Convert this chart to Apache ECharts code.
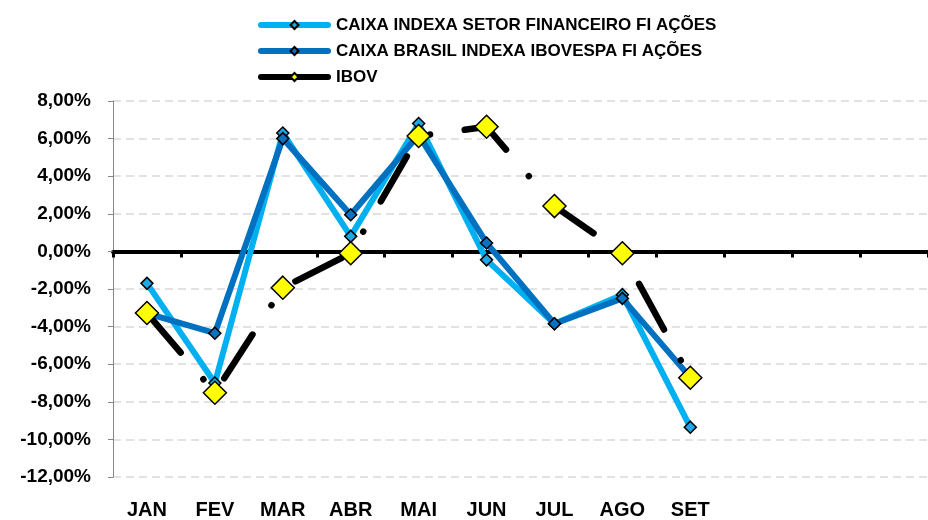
<!DOCTYPE html>
<html>
<head>
<meta charset="utf-8">
<script src="https://cdn.jsdelivr.net/npm/echarts@6/dist/echarts.min.js"></script>
<style>html,body{margin:0;padding:0;background:#fff}#c{width:928px;height:520px}</style>
</head>
<body>
<div id="c"></div>
<script>
var categories = ['JAN','FEV','MAR','ABR','MAI','JUN','JUL','AGO','SET','OUT','NOV','DEZ'];
var categoryLabels = ['JAN','FEV','MAR','ABR','MAI','JUN','JUL','AGO','SET','','',''];
var seriesNames = ['CAIXA INDEXA SETOR FINANCEIRO FI AÇÕES','CAIXA BRASIL INDEXA IBOVESPA FI AÇÕES','IBOV'];
var setorFinanceiro = [-1.7, -7.0, 6.3, 0.8, 6.8, -0.45, -3.85, -2.3, -9.35, null, null, null];
var brasilIbovespa = [-3.3, -4.35, 6.0, 1.95, 6.2, 0.45, -3.85, -2.5, -6.7, null, null, null];
var ibov = [-3.28, -7.52, -1.93, -0.1, 6.14, 6.63, 2.41, -0.1, -6.72, null, null, null];
var yMin = -12, yMax = 8, yStep = 2;

var font = '"Liberation Sans", Arial, sans-serif';
var chart = echarts.init(document.getElementById('c'), null, {renderer: 'canvas'});
chart.setOption({
  animation: false,
  backgroundColor: '#fff',
  legend: {
    orient: 'vertical',
    left: 253,
    top: 10,
    itemWidth: 67,
    itemHeight: 10,
    itemGap: 6,
    lineStyle: {width: 6, type: 'solid', cap: 'round'},
    textStyle: {fontFamily: font, fontWeight: 'bold', fontSize: 17, color: '#000', lineHeight: 20, padding: [0, 0, 0, 3]},
    data: seriesNames
  },
  grid: {left: 113, right: 0, top: 101, bottom: 43},
  xAxis: [{
    type: 'category',
    data: categories,
    boundaryGap: true,
    axisLine: {onZero: true, lineStyle: {color: '#000', width: 4}},
    axisTick: {show: true, length: 6, lineStyle: {color: '#000', width: 3}},
    axisLabel: {show: false},
    splitLine: {show: false}
  }, {
    type: 'category',
    data: categoryLabels,
    position: 'bottom',
    boundaryGap: true,
    axisLine: {show: false, onZero: false},
    axisTick: {show: false},
    axisLabel: {show: true, interval: 0, margin: 23, fontFamily: font, fontWeight: 'bold', fontSize: 20, color: '#000'},
    splitLine: {show: false}
  }],
  yAxis: {
    type: 'value',
    min: yMin, max: yMax, interval: yStep,
    axisLine: {show: true, lineStyle: {color: '#868686', width: 1}},
    axisTick: {show: true, length: 5, lineStyle: {color: '#868686'}},
    axisLabel: {
      margin: 22, fontFamily: font, fontWeight: 'bold', fontSize: 19, color: '#000',
      formatter: function (v) { return v.toFixed(2).replace('.', ',') + '%'; }
    },
    splitLine: {show: true, lineStyle: {color: '#d9d9d9', width: 1.5, type: [8, 5]}}
  },
  series: [{
    name: seriesNames[0],
    type: 'line',
    xAxisIndex: 0,
    data: setorFinanceiro,
    symbol: 'diamond',
    symbolSize: 12,
    lineStyle: {color: '#00b0f0', width: 6, cap: 'round', join: 'round'},
    itemStyle: {color: '#1fa8e6', borderColor: '#000', borderWidth: 1.5}
  }, {
    name: seriesNames[1],
    type: 'line',
    xAxisIndex: 0,
    data: brasilIbovespa,
    symbol: 'diamond',
    symbolSize: 12,
    lineStyle: {color: '#0070c0', width: 6, cap: 'round', join: 'round'},
    itemStyle: {color: '#0a72c0', borderColor: '#000', borderWidth: 1.5}
  }, {
    name: seriesNames[2],
    type: 'line',
    xAxisIndex: 0,
    data: ibov,
    symbol: 'diamond',
    symbolSize: 23,
    lineStyle: {color: '#000', width: 6.5, type: [52, 35, 0.01, 35], cap: 'round', join: 'round'},
    itemStyle: {color: '#ffff00', borderColor: '#000', borderWidth: 1.5}
  }]
});
</script>
</body>
</html>
